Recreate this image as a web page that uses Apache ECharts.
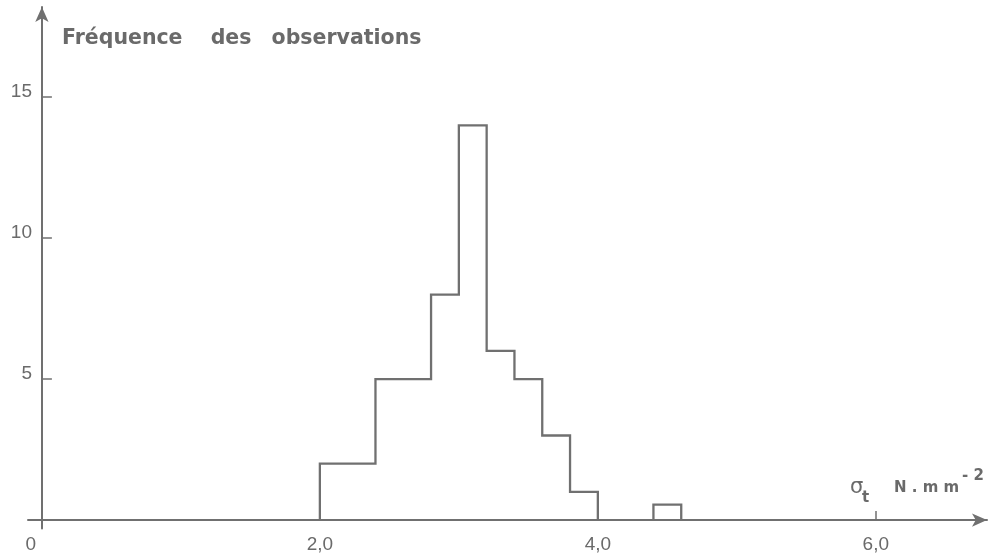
<!DOCTYPE html>
<html>
<head>
<meta charset="utf-8">
<script src="https://cdn.jsdelivr.net/npm/echarts@6/dist/echarts.min.js"></script>
<style>html,body{margin:0;padding:0;background:#fff}#c{width:992px;height:560px}</style>
</head>
<body>
<div id="c"></div>
<script>
// Histogram bins (σt, N.mm^-2) and observation counts
const binLo = [2.0, 2.4, 2.8, 3.0, 3.2, 3.4, 3.6, 3.8, 4.4];
const binHi = [2.4, 2.8, 3.0, 3.2, 3.4, 3.6, 3.8, 4.0, 4.6];
const counts = [2, 5, 8, 14, 6, 5, 3, 1, 0.55];
const xTicks = [0, 2, 4, 6];
const yTicks = [5, 10, 15];
const yTitleWords = ['Fréquence', 'des', 'observations'];

const INK = '#707070';
const TXT = '#6a6a6a';

// group contiguous bins into outline polylines
const groups = [];
for (let i = 0; i < binLo.length; i++) {
  if (i === 0 || Math.abs(binLo[i] - binHi[i - 1]) > 1e-9) groups.push([]);
  groups[groups.length - 1].push(i);
}
const series = groups.map(g => {
  const pts = [[binLo[g[0]], 0]];
  g.forEach(i => { pts.push([binLo[i], counts[i]]); pts.push([binHi[i], counts[i]]); });
  pts.push([binHi[g[g.length - 1]], 0]);
  return {
    type: 'line', data: pts, showSymbol: false, silent: true, animation: false,
    lineStyle: { color: INK, width: 2.3, join: 'miter' }
  };
});

const chart = echarts.init(document.getElementById('c'));
chart.setOption({
  backgroundColor: '#fff',
  animation: false,
  grid: { left: 28, right: 5, top: 7, bottom: 31.5, containLabel: false, outerBoundsMode: 'none' },
  xAxis: {
    type: 'value', min: -0.1, max: 6.8,
    splitLine: { show: false },
    axisLine: { onZero: true, lineStyle: { color: INK, width: 2 }, symbol: ['none', 'arrow'], symbolSize: [10, 15] },
    axisTick: { show: true, inside: true, length: 9, customValues: [2, 4, 6], lineStyle: { color: INK, width: 1.5 } },
    axisLabel: {
      customValues: xTicks, color: TXT, fontSize: 19, fontFamily: 'Liberation Sans', margin: 7,
      formatter: v => v === 0 ? '{z|0}' : v.toFixed(1).replace('.', ','),
      rich: { z: { fontSize: 19, fontFamily: 'Liberation Sans', color: TXT, padding: [0, 22, 0, 0] } }
    }
  },
  yAxis: {
    type: 'value', min: -0.3, max: 18.2,
    splitLine: { show: false },
    axisLine: { onZero: true, lineStyle: { color: INK, width: 2 }, symbol: ['none', 'arrow'], symbolSize: [10, 15] },
    axisTick: { show: true, inside: true, length: 10, customValues: yTicks, lineStyle: { color: INK, width: 1.5 } },
    axisLabel: { customValues: yTicks, color: TXT, fontSize: 19, fontFamily: 'Liberation Sans', margin: -4,
      verticalAlign: 'bottom', lineHeight: 10 }
  },
  series: series,
  graphic: [
    { type: 'text', left: 62, top: 28, silent: true,
      style: {
        text: yTitleWords[0] + '{g| }' + yTitleWords[1] + '{h| }' + yTitleWords[2],
        fill: TXT, font: 'bold 20.5px "DejaVu Sans"',
        rich: {
          g: { font: 'bold 20.5px "DejaVu Sans"', fill: TXT, padding: [0, 11, 0, 10] },
          h: { font: 'bold 20.5px "DejaVu Sans"', fill: TXT, padding: [0, 7, 0, 6] }
        }
      } },
    { type: 'text', x: 850, y: 488, silent: true,
      style: { text: 'σ', fill: TXT, font: '21px "DejaVu Sans"', verticalAlign: 'middle' } },
    { type: 'text', x: 862, y: 498, silent: true,
      style: { text: 't', fill: TXT, font: 'bold 15px "DejaVu Sans"', verticalAlign: 'middle' } },
    { type: 'text', x: 894, y: 488, silent: true,
      style: { text: 'N . m m', fill: TXT, font: 'bold 15px "DejaVu Sans"', verticalAlign: 'middle' } },
    { type: 'text', x: 962, y: 476, silent: true,
      style: { text: '- 2', fill: TXT, font: 'bold 15px "DejaVu Sans"', verticalAlign: 'middle' } }
  ]
});
</script>
</body>
</html>
